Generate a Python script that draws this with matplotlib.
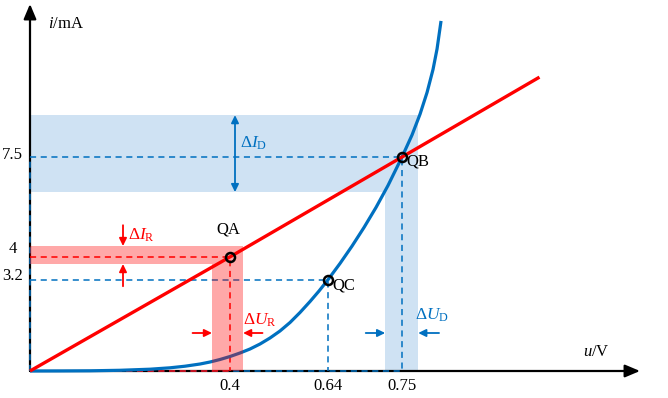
import numpy as np
import matplotlib
matplotlib.use("Agg")
import matplotlib.pyplot as plt

# --- data ---
diode_u = [0, 0.06, 0.12, 0.18, 0.24, 0.28, 0.31, 0.34, 0.36, 0.38, 0.40,
           0.4245, 0.449, 0.4735, 0.498, 0.5224, 0.547, 0.5714, 0.596, 0.618, 0.64,
           0.6578, 0.6757, 0.6935, 0.7114, 0.7292, 0.75,
           0.7704, 0.7867, 0.801, 0.8132, 0.8214, 0.8295]
diode_i = [0, 0.002, 0.007, 0.025, 0.063, 0.112, 0.168, 0.245, 0.315, 0.403, 0.508,
           0.631, 0.771, 0.946, 1.157, 1.402, 1.70, 2.05, 2.436, 2.804, 3.2,
           3.768, 4.378, 5.03, 5.734, 6.502, 7.5,
           8.272, 9.0, 9.762, 10.571, 11.29, 12.27]

load_u = [0, 0.4, 0.75, 1.03]
load_i = [0, 4, 7.5, 10.3]

q_names = ["QA", "QB", "QC"]
q_u = [0.4, 0.75, 0.64]
q_i = [4, 7.5, 3.2]

x_ticks = [0.4, 0.64, 0.75]
x_labels = ["0.4", "0.64", "0.75"]
y_ticks = [7.5, 4, 3.2]
y_labels = ["7.5", "4", "3.2"]

band_d_u = (0.725, 0.783)   # delta U_D
band_d_i = (6.27, 8.97)     # delta I_D
band_r_u = (0.364, 0.432)   # delta U_R
band_r_i = (3.75, 4.38)     # delta I_R

BLUE = "#0070c0"
RED = "#ff0000"
BAND_BLUE = "#cfe2f3"

# schematic (non uniform) voltage axis, in pixels from the origin
U_KNOTS = [-1, 0, 0.4, 0.64, 0.75, 2]
X_KNOTS = [-500, 0, 200, 298, 372, 985.75]

def fwd(u):
	return np.interp(u, U_KNOTS, X_KNOTS)

def inv(x):
	return np.interp(x, X_KNOTS, U_KNOTS)

PX_MA = 28.53

plt.rcParams["font.family"] = ["Liberation Serif", "DejaVu Serif"]
plt.rcParams["mathtext.fontset"] = "custom"
plt.rcParams["mathtext.rm"] = "Liberation Serif"
plt.rcParams["mathtext.it"] = "Liberation Serif:italic"

fig = plt.figure(figsize=(6.68, 3.98), dpi=100)
ax = fig.add_axes([0, 0, 1, 1])
ax.set_xscale("function", functions=(fwd, inv))
ax.set_xlim(inv(-30), inv(638))
ax.set_ylim(-27 / PX_MA, 371 / PX_MA)
ax.axis("off")

# shaded bands (L shapes)
ax.fill([0, band_d_u[0], band_d_u[0], band_d_u[1], band_d_u[1], 0],
		[band_d_i[0], band_d_i[0], 0, 0, band_d_i[1], band_d_i[1]],
		color=BAND_BLUE, lw=0, zorder=1)

# axes with arrows
ax.annotate("", xy=(inv(610), 0), xytext=(0, 0),
			arrowprops=dict(arrowstyle="-|>,head_length=0.9,head_width=0.38", color="k",
							lw=1.6, shrinkA=0, shrinkB=0), zorder=2)
ax.annotate("", xy=(0, 367 / PX_MA), xytext=(0, 0),
			arrowprops=dict(arrowstyle="-|>,head_length=0.9,head_width=0.38", color="k",
							lw=1.6, shrinkA=0, shrinkB=0), zorder=2)

# dashed guide lines
dash = dict(lw=1.1, dashes=(4, 3))
ax.plot([0, 0], [0, q_i[1]], color=BLUE, zorder=3, **dash)
ax.plot([0, q_u[1]], [0, 0], color=BLUE, zorder=3, **dash)
ax.plot([0, q_u[0]], [0, 0], color=RED, zorder=3, **dash)
for k, c in zip([1, 2, 0], [BLUE, BLUE, RED]):
	ax.plot([0, q_u[k], q_u[k]], [q_i[k], q_i[k], 0], color=c, zorder=3, **dash)

# curves
ax.plot(diode_u, diode_i, color=BLUE, lw=2.3, zorder=4, solid_capstyle="butt",
		solid_joinstyle="round")
ax.plot(load_u, load_i, color=RED, lw=2.4, zorder=4, solid_capstyle="butt")

# red band on top, translucent
ax.fill([0, band_r_u[0], band_r_u[0], band_r_u[1], band_r_u[1], 0],
		[band_r_i[0], band_r_i[0], 0, 0, band_r_i[1], band_r_i[1]],
		color=RED, alpha=0.34, lw=0, zorder=5)

# Q points
ax.plot(q_u, q_i, "o", ms=6.5, mfc="none", mec="k", mew=1.8, zorder=6)
q_off = {"QA": (-1.5, 19.5, "center"), "QB": (3.5, -3.5, "left"), "QC": (3, -4.5, "left")}
for name, u, i in zip(q_names, q_u, q_i):
	dx, dy, ha = q_off[name]
	ax.annotate(name, (u, i), xytext=(dx, dy), textcoords="offset points",
				ha=ha, va="center", fontsize=12, zorder=7)

# tick labels
for u, lab in zip(x_ticks, x_labels):
	ax.annotate(lab, (u, 0), xytext=(0, -5), textcoords="offset points",
				ha="center", va="top", fontsize=12)
for i, lab, dy in zip(y_ticks, y_labels, [1.5, 5.5, 3]):
	ax.annotate(lab, (0, i), xytext=(-12.5, dy), textcoords="offset points",
				ha="center", va="center", fontsize=12)

# axis labels
ax.text(inv(18), 12.16, "$i$/mA", fontsize=12, ha="left", va="center")
ax.text(inv(553), 0.67, "$u$/V", fontsize=12, ha="left", va="center")

# delta arrows
def arrow(xy, xytext, color, both=False):
	style = "<|-|>" if both else "-|>"
	ax.annotate("", xy=xy, xytext=xytext,
				arrowprops=dict(arrowstyle=style + ",head_length=0.45,head_width=0.22",
								color=color, lw=1.3, shrinkA=0, shrinkB=0), zorder=6)

def arrow_off(xy, off, color):
	ax.annotate("", xy=xy, xytext=off, textcoords="offset points",
				arrowprops=dict(arrowstyle="-|>,head_length=0.45,head_width=0.22",
								color=color, lw=1.3, shrinkA=0, shrinkB=0), zorder=6)

# delta I_D
arrow((inv(205), band_d_i[0]), (inv(205), band_d_i[1]), BLUE, both=True)
ax.text(inv(210), 7.99, r"$\Delta I_{\mathrm{D}}$", color=BLUE, fontsize=12.5,
		ha="left", va="center", zorder=7)

# delta I_R
xr = inv(93)
arrow_off((xr, band_r_i[1]), (0, 15), RED)
arrow_off((xr, band_r_i[0]), (0, -16), RED)
ax.text(inv(98), 4.77, r"$\Delta I_{\mathrm{R}}$", color=RED, fontsize=12.5,
		ha="left", va="center", zorder=7)

# delta U_R
yu = 38 / PX_MA
arrow_off((band_r_u[0], yu), (-14, 0), RED)
arrow_off((band_r_u[1], yu), (14, 0), RED)
ax.text(band_r_u[1], 1.79, r"$\Delta U_{\mathrm{R}}$", color=RED, fontsize=12.5,
		ha="left", va="center", zorder=7)

# delta U_D
arrow_off((band_d_u[0], yu), (-14, 0), BLUE)
arrow_off((band_d_u[1], yu), (15, 0), BLUE)
ax.text(inv(385), 1.96, r"$\Delta U_{\mathrm{D}}$", color=BLUE, fontsize=12.5,
		ha="left", va="center", zorder=7)

fig.savefig("out.png", dpi=100)
